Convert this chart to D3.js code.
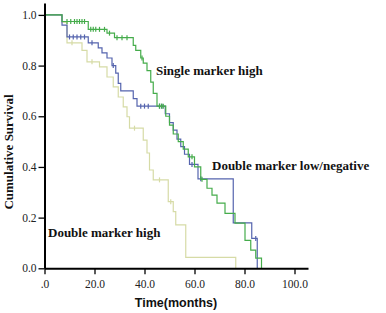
<!DOCTYPE html>
<html>
<head>
<meta charset="utf-8">
<script src="https://cdn.jsdelivr.net/npm/d3@7"></script>
<style>
  body { margin: 0; background: #fff; }
  svg { display: block; }
</style>
</head>
<body>
<div id="container"></div>
<script>
/* CONSTANTS */
const width = 386,
  height = 313

// step curves: time (months) where the survival changes, and the value after it
const singleHighTimes = [0, 7, 17.5, 25, 28, 35.5, 36.5, 38.5, 39.5, 41, 42.5, 43.5, 45, 48.5, 50, 51.5, 53.5, 55.5, 57.5, 60, 62.5, 65, 67, 69, 72.2, 76.2, 80.2, 82.5, 84.5, 86.8]
const singleHighSurv  = [1, 0.974, 0.943, 0.928, 0.91, 0.88, 0.86, 0.83, 0.81, 0.78, 0.735, 0.69, 0.64, 0.60, 0.565, 0.53, 0.50, 0.47, 0.44, 0.40, 0.351, 0.316, 0.289, 0.257, 0.217, 0.178, 0.11, 0.072, 0.04, 0]
const singleHighCens  = [9, 10.5, 12, 13, 14, 15, 16, 18.5, 19.5, 20.5, 22, 24, 26, 29, 31, 33, 39, 46, 46.8, 47.5, 59, 63]

const doubleLowTimes = [0, 7, 9, 17.5, 21.5, 23, 25, 27, 28.5, 29.5, 30.5, 35.5, 37, 48.3, 50, 51.5, 53, 54.5, 56, 58, 61.4, 75.5, 82.9, 85.1]
const doubleLowSurv  = [1, 0.96, 0.913, 0.89, 0.87, 0.85, 0.83, 0.80, 0.77, 0.73, 0.70, 0.67, 0.64, 0.61, 0.575, 0.545, 0.51, 0.48, 0.45, 0.41, 0.353, 0.179, 0.118, 0]
const doubleLowCens  = [10, 11.5, 13, 14.5, 16, 19, 27.5, 38.5, 40, 41.5, 46, 47, 59, 62.5, 84.5]

const doubleHighTimes = [0, 7, 9, 15, 17, 22, 25, 27.5, 29.5, 31.5, 33, 34, 39.5, 41, 42, 43.5, 49.5, 51.5, 52.5, 56.5, 76.5]
const doubleHighSurv  = [1, 0.97, 0.89, 0.86, 0.815, 0.795, 0.755, 0.716, 0.676, 0.637, 0.598, 0.553, 0.506, 0.455, 0.388, 0.349, 0.263, 0.224, 0.171, 0.043, 0]
const doubleHighCens  = [11, 19, 36, 46, 50.5]

const xTicks = [0, 20, 40, 60, 80, 100]
const yTicks = [0, 0.2, 0.4, 0.6, 0.8, 1.0]

const series = [
  { times: doubleHighTimes, surv: doubleHighSurv, cens: doubleHighCens, color: '#d6dba6' },
  { times: doubleLowTimes, surv: doubleLowSurv, cens: doubleLowCens, color: '#5564ae' },
  { times: singleHighTimes, surv: singleHighSurv, cens: singleHighCens, color: '#45ac4b' }
]

const labels = [
  { text: 'Single marker high', x: 156, y: 75 },
  { text: 'Double marker low/negative', x: 212, y: 170 },
  { text: 'Double marker high', x: 48, y: 237 }
]

/* SCALES */
const xScale = d3.scaleLinear().domain([0, 105.4]).range([44.5, 308])
const yScale = d3.scaleLinear().domain([0, 1.047]).range([268.3, 3])

const svg = d3.select('#container')
  .append('svg')
  .attr('width', width)
  .attr('height', height)

// survival value at time t (step after)
function survAt(s, t) {
  let v = s.surv[0]
  s.times.forEach((tt, i) => { if (tt <= t) v = s.surv[i] })
  return v
}

const line = d3.line()
  .x(d => xScale(d[0]))
  .y(d => yScale(d[1]))
  .curve(d3.curveStepAfter)

series.forEach(s => {
  const pts = s.times.map((t, i) => [t, s.surv[i]])
  svg.append('path')
    .attr('d', line(pts))
    .attr('fill', 'none')
    .attr('stroke', s.color)
    .attr('stroke-width', 1.2)

  svg.selectAll(null)
    .data(s.cens)
    .enter()
    .append('line')
    .attr('x1', d => xScale(d))
    .attr('x2', d => xScale(d))
    .attr('y1', d => yScale(survAt(s, d)) - 2.5)
    .attr('y2', d => yScale(survAt(s, d)) + 2.5)
    .attr('stroke', s.color)
    .attr('stroke-width', 1.2)
})

/* AXES */
const xAxis = d3.axisBottom(xScale)
  .tickValues(xTicks)
  .tickSize(6)
  .tickSizeOuter(0)
  .tickFormat(d => d === 0 ? '.0' : d3.format('.1f')(d))

const yAxis = d3.axisLeft(yScale)
  .tickValues(yTicks)
  .tickSize(6)
  .tickSizeOuter(0)
  .tickFormat(d3.format('.1f'))

const gx = svg.append('g')
  .attr('transform', `translate(0, ${yScale(0)})`)
  .call(xAxis)

const gy = svg.append('g')
  .attr('transform', `translate(${xScale(0)}, 0)`)
  .call(yAxis)

;[gx, gy].forEach(g => {
  g.select('.domain').attr('stroke', '#000').attr('stroke-width', 2)
  g.selectAll('.tick line').attr('stroke', '#000').attr('stroke-width', 1.3)
  g.selectAll('.tick text')
    .attr('fill', '#222')
    .style('font-family', '"Liberation Serif", "DejaVu Serif", serif')
    .style('font-size', '11.5px')
})
gx.selectAll('.tick text').attr('dy', '0.95em')
gy.selectAll('.tick text').attr('x', -8)

// labels on the curves
svg.selectAll('text.curve-label')
  .data(labels)
  .enter()
  .append('text')
  .attr('class', 'curve-label')
  .attr('x', d => d.x)
  .attr('y', d => d.y)
  .style('font-family', '"Liberation Serif", serif')
  .style('font-weight', 'bold')
  .style('font-size', '13px')
  .attr('fill', '#111')
  .text(d => d.text)

// axis titles
svg.append('text')
  .attr('x', 176)
  .attr('y', 307)
  .attr('text-anchor', 'middle')
  .style('font-family', '"Liberation Sans", Arial, sans-serif')
  .style('font-weight', 'bold')
  .style('font-size', '12.5px')
  .attr('fill', '#111')
  .text('Time(months)')

svg.append('text')
  .attr('transform', 'translate(13, 152) rotate(-90)')
  .attr('text-anchor', 'middle')
  .style('font-family', '"Liberation Serif", serif')
  .style('font-weight', 'bold')
  .style('font-size', '13px')
  .attr('fill', '#111')
  .text('Cumulative Survival')
</script>
</body>
</html>
